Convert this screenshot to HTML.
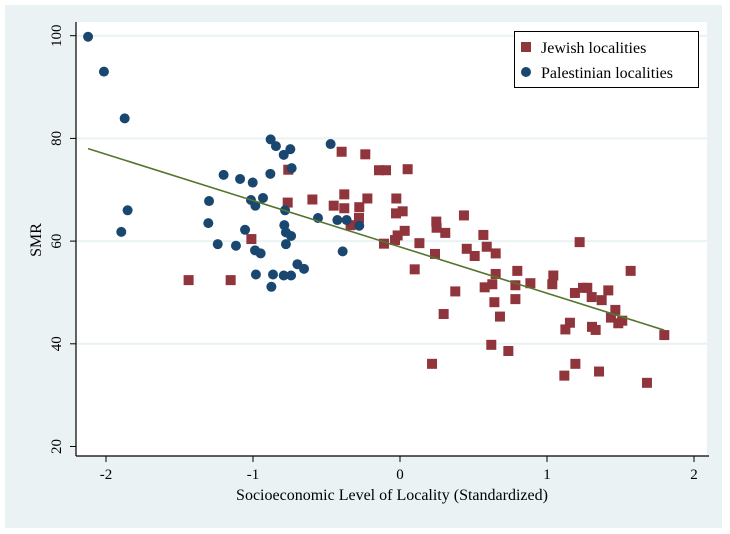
<!DOCTYPE html>
<html><head><meta charset="utf-8"><style>
html,body{margin:0;padding:0;background:#fff;}
svg{display:block;font-family:"Liberation Serif",serif;}
</style></head><body>
<svg id="chart" width="730" height="534" xmlns="http://www.w3.org/2000/svg">
<rect x="5" y="5" width="717" height="523" fill="#eaf2f3"/>
<rect x="76" y="22" width="631" height="434" fill="#ffffff"/>
<g id="grid"></g>
<g id="axes"></g>
<g id="marks"></g>
<text x="392" y="500" text-anchor="middle" font-size="16" fill="#000">Socioeconomic Level of Locality (Standardized)</text>
<text transform="translate(41,240) rotate(-90)" text-anchor="middle" font-size="16" fill="#000">SMR</text>
<g>
<rect x="514.5" y="31.5" width="184" height="56" fill="#fff" stroke="#000" stroke-width="1"/>
<rect x="521" y="42" width="10" height="10" fill="#90353b"/>
<text x="541" y="53" font-size="16" fill="#000">Jewish localities</text>
<circle cx="526" cy="72" r="5" fill="#1a476f"/>
<text x="541" y="78" font-size="16" fill="#000">Palestinian localities</text>
</g>
</svg>
<script>
const xTicks = [-2, -1, 0, 1, 2];
const yTicks = [20, 40, 60, 80, 100];
const gridValues = [40, 60, 80, 100];
const jewishX = [-1.438,-1.152,-1.011,-0.760,-0.764,-0.596,-0.397,-0.236,-0.143,-0.095,0.052,-0.379,-0.451,-0.379,-0.277,-0.222,-0.025,-0.279,-0.027,0.018,-0.336,0.032,-0.016,-0.034,-0.109,0.132,0.100,0.238,0.247,0.249,0.308,0.435,0.454,0.508,0.567,0.590,0.651,0.376,0.297,0.651,0.628,0.576,0.785,0.798,0.785,0.642,0.680,0.887,1.043,1.036,1.222,1.569,1.190,1.245,1.274,1.304,1.372,1.417,1.465,1.435,1.485,1.512,1.156,1.125,1.306,1.331,1.798,0.621,0.737,0.218,1.193,1.118,1.354,1.680];
const jewishY = [52.4,52.4,60.4,73.9,67.5,68.1,77.4,76.9,73.8,73.8,74.0,69.1,66.9,66.4,66.6,68.3,68.3,64.5,65.4,65.8,63.1,62.0,61.1,60.2,59.5,59.6,54.5,57.5,63.8,62.6,61.6,65.0,58.5,57.1,61.2,58.9,57.6,50.2,45.8,53.6,51.6,51.0,51.4,54.2,48.7,48.1,45.3,51.8,53.3,51.6,59.8,54.2,49.9,50.9,50.9,49.1,48.5,50.4,46.6,45.1,44.0,44.5,44.1,42.8,43.3,42.7,41.7,39.8,38.6,36.1,36.1,33.8,34.6,32.4];
const palX = [-2.122,-2.014,-1.873,-1.853,-1.896,-1.299,-1.304,-1.200,-1.240,-1.088,-1.116,-1.002,-1.014,-0.984,-0.932,-1.054,-0.986,-0.948,-0.980,-0.880,-0.844,-0.791,-0.746,-0.737,-0.882,-0.782,-0.787,-0.776,-0.741,-0.776,-0.864,-0.875,-0.791,-0.741,-0.698,-0.653,-0.558,-0.472,-0.426,-0.363,-0.277,-0.390];
const palY = [99.8,93.0,83.9,66.0,61.8,67.8,63.5,72.9,59.4,72.1,59.1,71.4,68.0,66.9,68.4,62.2,58.2,57.6,53.5,79.8,78.5,76.8,77.9,74.2,73.1,66.0,63.1,61.7,61.0,59.4,53.5,51.1,53.3,53.3,55.5,54.6,64.5,78.9,64.1,64.1,63.0,58.0];

const NS = "http://www.w3.org/2000/svg";
const X0 = 76, X1 = 707, Y0 = 22, Y1 = 456;
function sx(v){ return 400 + 147 * v; }
function sy(v){ return 35.7 + (100 - v) * 5.135; }
function mk(tag, attrs, parent){
  const e = document.createElementNS(NS, tag);
  for (const k in attrs) e.setAttribute(k, attrs[k]);
  parent.appendChild(e);
  return e;
}
const grid = document.getElementById('grid');
const axes = document.getElementById('axes');
const marks = document.getElementById('marks');

gridValues.forEach(v => {
  const l = mk('line', {x1: X0, x2: X1, y1: sy(v), y2: sy(v), stroke: '#eaf2f3', 'stroke-width': 2}, grid);
  
  
});

let a = mk('line', {x1: X0, x2: X0, y1: Y0, y2: Y1, stroke: '#000', 'stroke-width': 1.2}, axes);


a = mk('line', {x1: X0, x2: X1 + 2, y1: Y1, y2: Y1, stroke: '#000', 'stroke-width': 1.2}, axes);



yTicks.forEach(v => {
  const y = sy(v);
  const t = mk('line', {x1: X0 - 6, x2: X0, y1: y, y2: y, stroke: '#000', 'stroke-width': 1}, axes);
  
  
  const tx = mk('text', {transform: 'translate(61,' + y + ') rotate(-90)', 'text-anchor': 'middle', 'font-size': 15, fill: '#000'}, axes);
  tx.textContent = String(v);
  
  
});
xTicks.forEach(v => {
  const x = sx(v);
  const t = mk('line', {x1: x, x2: x, y1: Y1, y2: Y1 + 6, stroke: '#000', 'stroke-width': 1}, axes);
  
  
  const tx = mk('text', {x: x, y: 479, 'text-anchor': 'middle', 'font-size': 15, fill: '#000'}, axes);
  tx.textContent = String(v);
  
  
});

jewishX.forEach((v, i) => {
  const r = mk('rect', {x: sx(v) - 5, y: sy(jewishY[i]) - 5, width: 10, height: 10, fill: '#90353b'}, marks);
  
  
});
palX.forEach((v, i) => {
  const c = mk('circle', {cx: sx(v), cy: sy(palY[i]), r: 5, fill: '#1a476f'}, marks);
  
  
});

// OLS fit over all localities
const allX = jewishX.concat(palX), allY = jewishY.concat(palY);
const n = allX.length;
const mx = allX.reduce((s, v) => s + v, 0) / n;
const my = allY.reduce((s, v) => s + v, 0) / n;
let sxy = 0, sxx = 0;
for (let i = 0; i < n; i++) { sxy += (allX[i] - mx) * (allY[i] - my); sxx += (allX[i] - mx) ** 2; }
const slope = sxy / sxx, icpt = my - slope * mx;
const xmin = Math.min(...allX), xmax = Math.max(...allX);
const fit = mk('line', {x1: sx(xmin), y1: sy(icpt + slope * xmin), x2: sx(xmax), y2: sy(icpt + slope * xmax), stroke: '#55752f', 'stroke-width': 1.6}, marks);


</script>
</body></html>
